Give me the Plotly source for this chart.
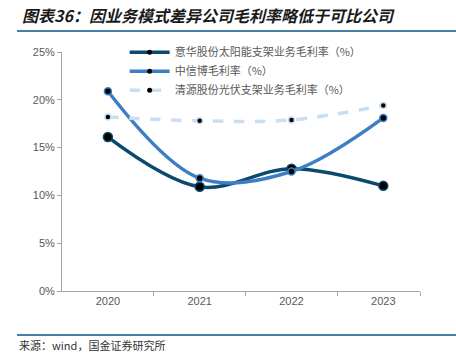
import plotly.graph_objects as go

years = [2020, 2021, 2022, 2023]
year_labels = ["2020", "2021", "2022", "2023"]
yihua = [16.1, 10.9, 12.8, 11.0]
zhongxinbo = [20.9, 11.8, 12.5, 18.1]
qingyuan = [18.2, 17.8, 17.9, 19.4]
names = ["意华股份太阳能支架业务毛利率（%）", "中信博毛利率（%）", "清源股份光伏支架业务毛利率（%）"]
y_ticks = [0, 5, 10, 15, 20, 25]
y_labels = [f"{v}%" for v in y_ticks]

W, H = 456, 353
L, R, T, B = 62, 36, 52, 62

colors = ["#0b4a6e", "#3d7fc4", "#c9def2"]
series = [yihua, zhongxinbo, qingyuan]
msizes = [9, 7, 6]
dashes = ["solid", "solid", "dash"]

fig = go.Figure()
for s, c, ms, d, n in zip(series, colors, msizes, dashes, names):
    fig.add_trace(go.Scatter(
        x=years, y=s, name=n, mode="lines+markers", showlegend=False,
        line=dict(color=c, width=3.5, dash=d, shape="spline", smoothing=1.0),
        marker=dict(color="black", size=ms, line=dict(color=c, width=1.5))))
for c, d, n in zip(colors, dashes, names):
    fig.add_trace(go.Scatter(
        x=[None], y=[None], name=n, mode="lines+markers",
        line=dict(color=c, width=3.5, dash=d),
        marker=dict(color="black", size=5, line=dict(width=0))))

fig.update_layout(
    width=W, height=H,
    margin=dict(l=L, r=R, t=T, b=B),
    paper_bgcolor="white", plot_bgcolor="white",
    font=dict(family="Noto Sans CJK SC, Liberation Sans, sans-serif", size=11, color="#595959"),
    showlegend=True,
    legend=dict(x=0.175, y=1.06, xanchor="left", yanchor="top",
                bgcolor="rgba(0,0,0,0)", font=dict(size=11, color="#595959"),
                itemwidth=40, tracegroupgap=0),
    xaxis=dict(range=[2019.5, 2023.4], tickvals=years, ticktext=year_labels,
               showgrid=False, zeroline=False, showline=True, linecolor="#a6a6a6",
               linewidth=1, ticks="", tickfont=dict(size=11, color="#595959",
               family="Liberation Sans, sans-serif"),
               minor=dict(tickvals=[2020.5, 2021.5, 2022.5, 2023.4], ticks="outside",
                          ticklen=4, tickcolor="#a6a6a6", showgrid=False)),
    yaxis=dict(range=[0, 25], tickvals=y_ticks, ticktext=y_labels, showgrid=False,
               zeroline=False, showline=True, linecolor="#a6a6a6", linewidth=1,
               ticks="outside", ticklen=4, tickcolor="#a6a6a6",
               tickfont=dict(size=11, color="#595959", family="Liberation Sans, sans-serif")),
)

# title and decorative lines
fig.add_annotation(xref="paper", yref="paper", x=-(L - 20) / (W - L - R),
                   y=1 + (T - 15) / (H - T - B), xanchor="left", yanchor="middle",
                   text="<b><i>图表36：因业务模式差异公司毛利率略低于可比公司</i></b>",
                   showarrow=False, font=dict(size=16, color="#1a1a1a"))
fig.add_shape(type="line", xref="paper", yref="paper",
              x0=-(L - 17) / (W - L - R), x1=1 + R / (W - L - R),
              y0=1 + (T - 31) / (H - T - B), y1=1 + (T - 31) / (H - T - B),
              line=dict(color="#4a7fa3", width=2))
fig.add_shape(type="line", xref="paper", yref="paper",
              x0=-(L - 17) / (W - L - R), x1=1 + R / (W - L - R),
              y0=-(335 - (H - B)) / (H - T - B), y1=-(335 - (H - B)) / (H - T - B),
              line=dict(color="#4a7fa3", width=2))
fig.add_annotation(xref="paper", yref="paper", x=-(L - 17) / (W - L - R),
                   y=-(345 - (H - B)) / (H - T - B), xanchor="left", yanchor="middle",
                   text="来源：wind，国金证券研究所", showarrow=False,
                   font=dict(size=11, color="#333333"))

fig.write_html("out.html")
